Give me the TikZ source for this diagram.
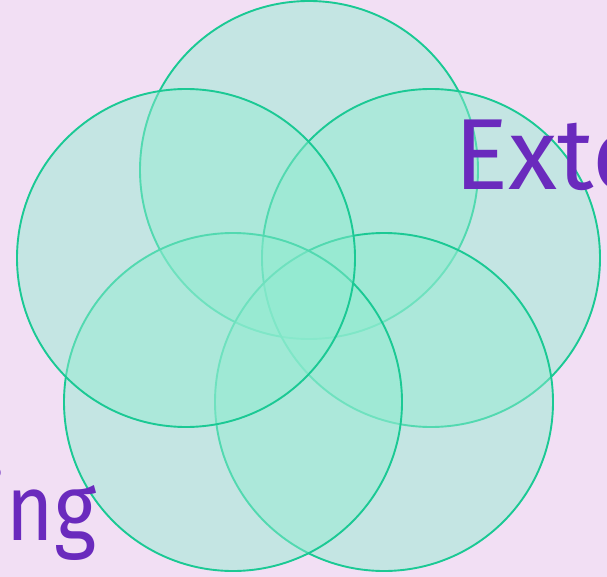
\documentclass[tikz,border=0pt]{standalone}
\usepackage{fontspec}
\setmainfont{Fira Sans}
\definecolor{bgpink}{HTML}{F2DFF4}
\definecolor{tealfill}{RGB}{145,236,208}
\definecolor{tealline}{HTML}{1BC994}
\definecolor{txtpurple}{HTML}{6A2ABD}
\tikzset{
  circ/.style={circle, inner sep=0pt, minimum size=338pt, draw=tealline, line width=1.9pt, fill=tealfill, fill opacity=0.47, draw opacity=1},
  lbl/.style={text=txtpurple, font=\fontsize{101}{110}\selectfont, inner sep=0pt}
}
\begin{document}
\begin{tikzpicture}[x=1pt,y=-1pt]
\useasboundingbox (0,0) rectangle (607,577);
\fill[bgpink] (0,0) rectangle (607,577);
\begin{scope}
\clip (0,0) rectangle (607,577);
\node[circ] (ctop) at (309,170) {};
\node[circ] (cright) at (431,258) {};
\node[circ] (cbr) at (384,402) {};
\node[circ] (cbl) at (233,402) {};
\node[circ] (cleft) at (186,258) {};
\node[lbl, anchor=base west] (t1) at (454,190) {Exte};
\node[lbl, anchor=base west, font=\fontsize{94}{100}\selectfont, xscale=0.86] (t2) at (-16,540) {ing};
\node[lbl, anchor=base west] (t3) at (436,-22) {y};
\end{scope}
\end{tikzpicture}
\end{document}
